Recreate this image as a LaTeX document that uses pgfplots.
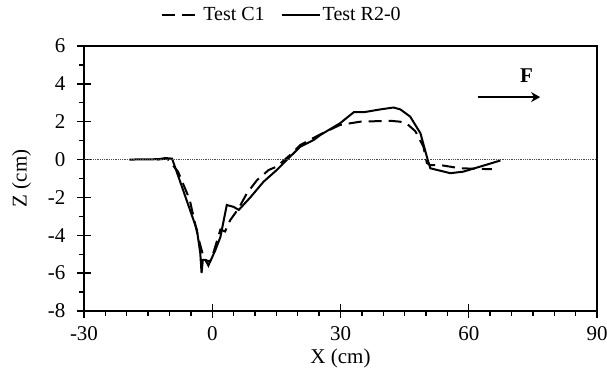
\documentclass[border=0pt]{standalone}
\usepackage{fontspec}
\setmainfont{Liberation Serif}
\usepackage{pgfplots}
\pgfplotsset{compat=1.18}
\usetikzlibrary{arrows.meta}
\begin{document}
\begin{tikzpicture}
\begin{axis}[
  name=ax,
  scale only axis,
  width=513pt, height=265pt,
  xmin=-30, xmax=90, ymin=-8, ymax=6,
  xtick={-30,0,30,60,90},
  ytick={-8,-6,-4,-2,0,2,4,6},
  minor x tick num=5,
  minor y tick num=1,
  axis x line*=bottom, axis y line*=left,
  tick align=center,
  major tick length=14pt, minor tick length=5pt,
  every tick/.style={black, line width=1.3pt},
  minor x tick style={yshift=-2.5pt},
  minor y tick style={xshift=-2.5pt},
  axis line style={line width=1.3pt},
  /pgf/number format/assume math mode=true,
  ticklabel style={font=\fontsize{21}{24}\selectfont},
  xticklabel style={yshift=-5pt},
  yticklabel style={xshift=-8pt},
  xlabel={X (cm)}, ylabel={Z (cm)},
  label style={font=\fontsize{21}{24}\selectfont},
  xlabel style={yshift=-1pt},
  ylabel style={yshift=10pt},
  legend style={draw=none, fill=none, at={(0.386,1.117)}, anchor=center,
    legend columns=2, font=\fontsize{20}{23}\selectfont,
    /tikz/every even column/.append style={column sep=14pt}},
  legend cell align=left,
  legend image code/.code={\draw[#1] (0pt,0pt) -- (38pt,0pt);},
  clip=false,
]
\draw[black, line width=1.3pt] (rel axis cs:0,1) -- (rel axis cs:1,1) -- (rel axis cs:1,0);
\addplot[black, line width=2pt, dash pattern=on 13pt off 7pt] coordinates {
(-13,0) (-10.5,0.05) (-8,-0.64) (-5.3,-2.1) (-3.3,-4.1) (-2.1,-5.1) (-0.9,-5.6)
(0.3,-4.9) (1.9,-3.7) (3,-3.8) (4.2,-3.2) (6.2,-2.57) (8.1,-1.78) (10.5,-1.08)
(13.2,-0.55) (15.1,-0.37) (18.2,0.24) (20.6,0.77) (25,1.3) (29.9,1.83) (34.6,2.0)
(41.6,2.05) (44,2.0) (45.5,1.9) (47.5,1.5) (49.4,0.68) (50.2,-0.18) (51,-0.29)
(53.3,-0.29) (58,-0.46) (65.4,-0.51)
};
\addlegendentry{Test C1}
\addplot[black, line width=2pt] coordinates {
(-19.4,0) (-12.5,0.02) (-11,0.08) (-9.4,0.05) (-7.3,-1.3) (-5.3,-2.6) (-3.6,-3.7)
(-2.8,-4.95) (-2.5,-6.0) (-2.2,-5.3) (-1.6,-5.3) (-0.5,-5.4) (0.7,-4.8) (1.9,-4.1)
(3.4,-2.4) (5,-2.5) (6.2,-2.66) (8.9,-2.0) (12,-1.17) (15.1,-0.55) (18.2,0.15)
(20.6,0.68) (23.7,1.03) (25.3,1.3) (29.9,1.92) (33.1,2.5) (35.4,2.5) (39.3,2.65)
(42.4,2.75) (44,2.65) (46.3,2.27) (48.7,1.39) (50.2,0.15) (51,-0.46) (55.7,-0.72)
(58.7,-0.64) (62.7,-0.37) (67.4,-0.05)
};
\addlegendentry{Test R2-0}
\draw[black!70, densely dotted, line width=0.8pt] (axis cs:-30,0) -- (axis cs:90,0);
\draw[black, line width=1.7pt, -{Stealth[length=9pt,width=10pt]}] (axis cs:62.2,3.3) -- (axis cs:76.7,3.3);
\node[font=\fontsize{21}{24}\selectfont\bfseries] at (axis cs:73.5,4.45) {F};
\coordinate (SW) at (rel axis cs:0,0);
\coordinate (NE) at (rel axis cs:1,1);
\end{axis}
\pgfresetboundingbox
\path[use as bounding box] ([xshift=-84pt,yshift=-61pt]SW) rectangle ([xshift=10pt,yshift=46pt]NE);
\end{tikzpicture}
\end{document}
